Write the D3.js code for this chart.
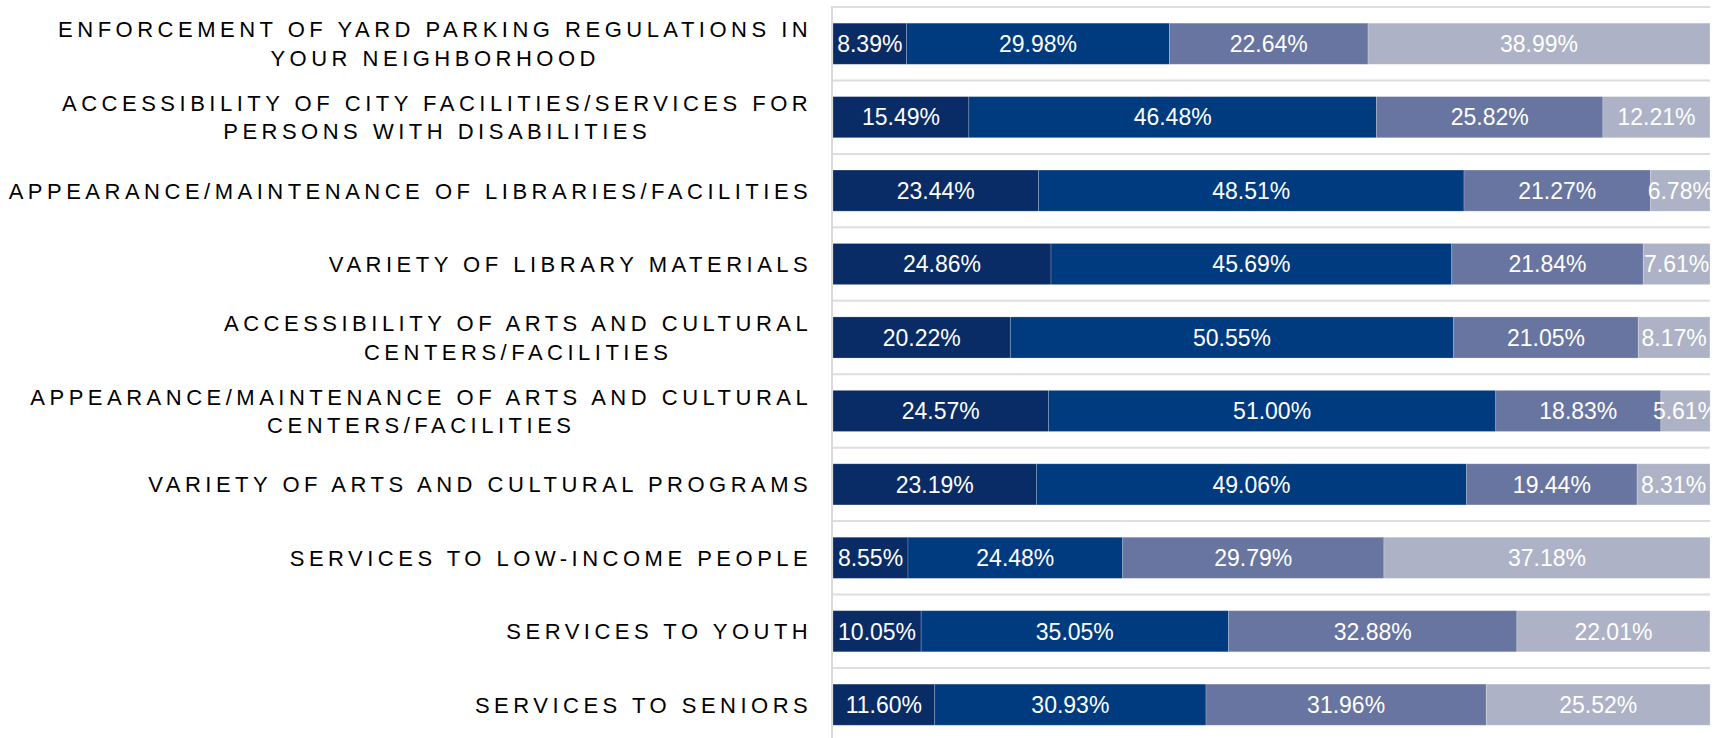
<!DOCTYPE html>
<html>
<head>
<meta charset="utf-8">
<script src="https://cdn.jsdelivr.net/npm/d3@7/dist/d3.min.js"></script>
<style>
  html, body { margin: 0; padding: 0; background: #fff; }
  svg { display: block; }
</style>
</head>
<body>
<div id="chart"></div>
<script>
const categories = [
  ['ENFORCEMENT OF YARD PARKING REGULATIONS IN', 'YOUR NEIGHBORHOOD'],
  ['ACCESSIBILITY OF CITY FACILITIES/SERVICES FOR', 'PERSONS WITH DISABILITIES'],
  ['APPEARANCE/MAINTENANCE OF LIBRARIES/FACILITIES'],
  ['VARIETY OF LIBRARY MATERIALS'],
  ['ACCESSIBILITY OF ARTS AND CULTURAL', 'CENTERS/FACILITIES'],
  ['APPEARANCE/MAINTENANCE OF ARTS AND CULTURAL', 'CENTERS/FACILITIES'],
  ['VARIETY OF ARTS AND CULTURAL PROGRAMS'],
  ['SERVICES TO LOW-INCOME PEOPLE'],
  ['SERVICES TO YOUTH'],
  ['SERVICES TO SENIORS']
];

// four response levels, one value per category (top to bottom)
const level1 = [8.39, 15.49, 23.44, 24.86, 20.22, 24.57, 23.19, 8.55, 10.05, 11.60];
const level2 = [29.98, 46.48, 48.51, 45.69, 50.55, 51.00, 49.06, 24.48, 35.05, 30.93];
const level3 = [22.64, 25.82, 21.27, 21.84, 21.05, 18.83, 19.44, 29.79, 32.88, 31.96];
const level4 = [38.99, 12.21, 6.78, 7.61, 8.17, 5.61, 8.31, 37.18, 22.01, 25.52];

const colors = ['#0a2c66', '#003b7f', '#6875a0', '#adb2c6'];

const width = 1721, height = 738;
const plotLeft = 833, plotRight = 1710, plotTop = 7, step = 73.44;

const svg = d3.select('#chart').append('svg')
  .attr('width', width)
  .attr('height', height);

const keys = categories.map((c, i) => 'c' + i);
const rows = keys.map((k, i) => ({
  key: k, lines: categories[i],
  l0: level1[i], l1: level2[i], l2: level3[i], l3: level4[i]
}));

const x = d3.scaleLinear().domain([0, 100]).range([plotLeft, plotRight]);
const y = d3.scaleBand()
  .domain(keys)
  .range([plotTop, plotTop + step * keys.length])
  .paddingInner(0.44)
  .paddingOuter(0.22);

const stack = d3.stack().keys(['l0', 'l1', 'l2', 'l3']);
const series = stack(rows);

// horizontal gridlines at band boundaries
const gap = y.step() * y.paddingInner() / 2;
const gridYs = keys.map(k => y(k) - gap).concat([y(keys[keys.length - 1]) + y.bandwidth() + gap]);
svg.append('g')
  .selectAll('line')
  .data(gridYs)
  .join('line')
  .attr('x1', plotLeft)
  .attr('x2', plotRight)
  .attr('y1', d => d)
  .attr('y2', d => d)
  .attr('stroke', '#dedede')
  .attr('stroke-width', 2);

// left axis line
svg.append('line')
  .attr('x1', plotLeft - 1).attr('x2', plotLeft - 1)
  .attr('y1', plotTop - 1).attr('y2', height)
  .attr('stroke', '#d9d9d9')
  .attr('stroke-width', 2);

svg.append('clipPath').attr('id', 'plotclip')
  .append('rect')
  .attr('x', plotLeft).attr('y', 0)
  .attr('width', plotRight - plotLeft).attr('height', height);

const groups = svg.append('g')
  .selectAll('g')
  .data(series)
  .join('g')
  .attr('fill', (d, i) => colors[i]);

groups.selectAll('rect')
  .data(d => d)
  .join('rect')
  .attr('x', d => x(d[0]))
  .attr('y', d => y(d.data.key))
  .attr('width', d => x(d[1]) - x(d[0]))
  .attr('height', y.bandwidth())
  .attr('stroke', 'rgba(255,255,255,0.25)')
  .attr('stroke-width', 0.8);

// value labels
const labels = svg.append('g').attr('clip-path', 'url(#plotclip)');
series.forEach(s => {
  labels.append('g')
    .selectAll('text')
    .data(s)
    .join('text')
    .attr('x', d => (x(d[0]) + x(d[1])) / 2)
    .attr('y', d => y(d.data.key) + y.bandwidth() / 2)
    .attr('dy', '0.36em')
    .attr('text-anchor', 'middle')
    .attr('fill', '#ffffff')
    .style('font-family', '"Liberation Sans", Arial, sans-serif')
    .style('font-size', '23px')
    .text(d => (d[1] - d[0]).toFixed(2) + '%');
});

// category labels, centred lines in a right-aligned block
const labelRight = 810;
const lineGap = 28.3;
const spacing = 4.5;
const catG = svg.append('g');
rows.forEach(r => {
  const cy = y(r.key) + y.bandwidth() / 2;
  const texts = r.lines.map((ln, j) => catG.append('text')
    .attr('y', cy + (j - (r.lines.length - 1) / 2) * lineGap)
    .attr('dy', '0.36em')
    .attr('text-anchor', 'middle')
    .attr('fill', '#000')
    .style('font-family', '"Liberation Sans", Arial, sans-serif')
    .style('font-size', '22px')
    .style('letter-spacing', spacing + 'px')
    .text(ln));
  const maxW = d3.max(texts, t => t.node().getComputedTextLength());
  texts.forEach(t => t.attr('x', labelRight - maxW / 2 + spacing / 2));
});
</script>
</body>
</html>
